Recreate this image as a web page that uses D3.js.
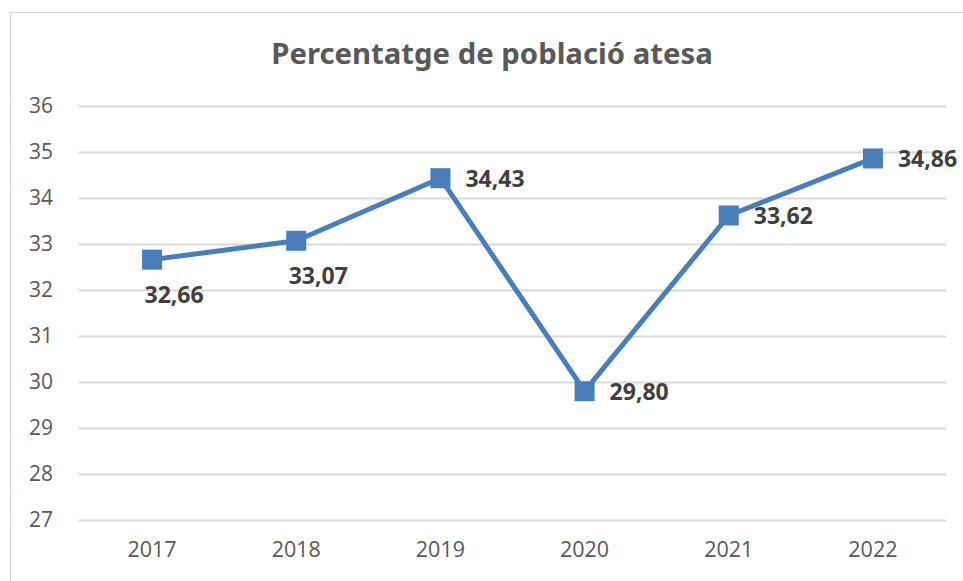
<!DOCTYPE html>
<html><head><meta charset="utf-8">
<script src="https://cdn.jsdelivr.net/npm/d3@7"></script>
<style>html,body{margin:0;padding:0;background:#fff;}svg{display:block;}</style>
</head><body>
<script>
const categories = ["2017","2018","2019","2020","2021","2022"];
const values = [32.66, 33.07, 34.43, 29.80, 33.62, 34.86];
const labels = ["32,66","33,07","34,43","29,80","33,62","34,86"];
const labelPos = ["below","below","right","right","right","right"];
const yTicks = [27,28,29,30,31,32,33,34,35,36];
const title = "Percentatge de població atesa";

const W = 963, H = 581;
const svg = d3.select("body").append("svg").attr("width", W).attr("height", H);
svg.append("rect").attr("x",10.5).attr("y",12.5).attr("width",W).attr("height",H).attr("fill","#fff").attr("stroke","#d9d9d9").attr("stroke-width",1);

const x = d3.scaleBand().domain(categories).range([80, 945]);
const y = d3.scaleLinear().domain([27,36]).range([520,106]);
const font = "'Open Sans', 'Noto Sans', sans-serif";

svg.append("text").attr("x", 492).attr("y", 64).attr("text-anchor","middle")
  .attr("font-family", "'Noto Sans', 'Open Sans', sans-serif").attr("font-weight","bold").attr("font-size", 29.3)
  .attr("fill","#595959").text(title);

const gy = svg.append("g").attr("transform","translate(79,0)")
  .call(d3.axisLeft(y).tickValues(yTicks).tickSize(-867).tickPadding(26).tickFormat(d3.format("d")));
gy.select(".domain").remove();
gy.selectAll(".tick line").attr("stroke","#d9d9d9").attr("stroke-width",2);
gy.selectAll(".tick text").attr("font-family",font).attr("font-size",21).attr("fill","#595959");

const gx = svg.append("g").attr("transform","translate(0,520)")
  .call(d3.axisBottom(x).tickSize(0).tickPadding(22));
gx.select(".domain").remove();
gx.selectAll(".tick text").attr("font-family",font).attr("font-size",21.5).attr("fill","#595959");

const color = "#4a7ebb";
const cx = (d,i) => x(categories[i]) + x.bandwidth()/2;
svg.append("path").datum(values)
  .attr("d", d3.line().x((d,i)=>cx(d,i)).y(d=>y(d)))
  .attr("fill","none").attr("stroke",color).attr("stroke-width",5).attr("stroke-linejoin","round");

svg.selectAll("rect.m").data(values).enter().append("rect").attr("class","m")
  .attr("x",(d,i)=>cx(d,i)-10).attr("y",d=>y(d)-10).attr("width",20).attr("height",20).attr("fill",color);

svg.selectAll("text.lbl").data(values).enter().append("text").attr("class","lbl")
  .attr("x",(d,i)=> labelPos[i]==="below" ? cx(d,i)+22 : cx(d,i)+25)
  .attr("y",(d,i)=> labelPos[i]==="below" ? y(d)+43 : y(d)+9)
  .attr("text-anchor",(d,i)=> labelPos[i]==="below" ? "middle" : "start")
  .attr("font-family",font).attr("font-weight","bold").attr("font-size",23).attr("fill","#404040")
  .text((d,i)=>labels[i]);
</script>
</body></html>
